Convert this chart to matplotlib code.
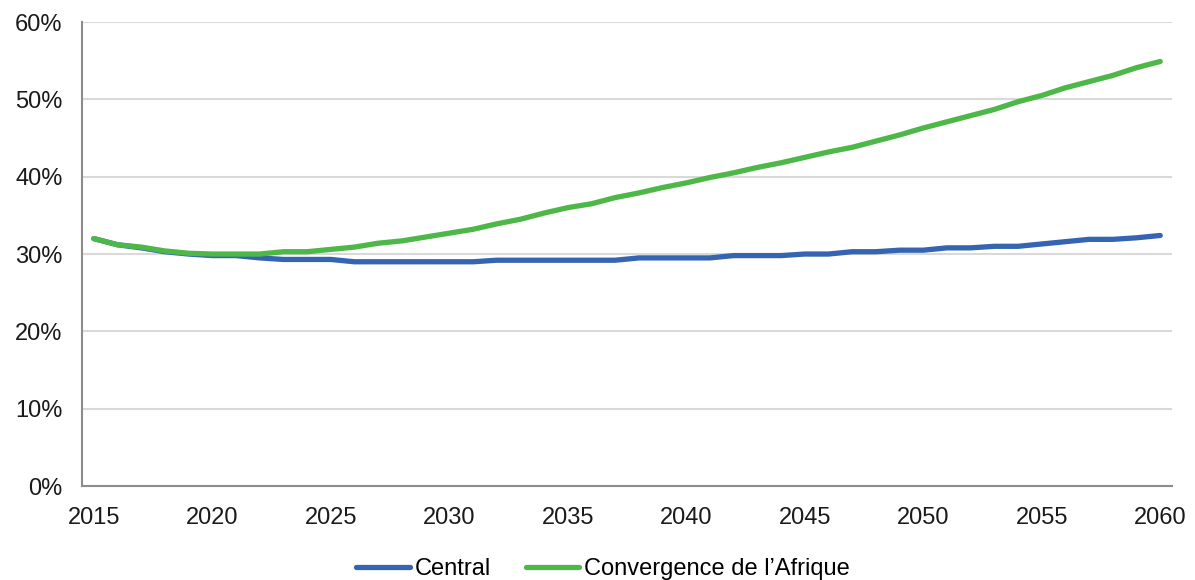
import matplotlib.pyplot as plt
from matplotlib.ticker import PercentFormatter

plt.rcParams['font.family'] = ['Liberation Sans', 'DejaVu Sans']

# Données
years = list(range(2015, 2061))
central = [32.0, 31.2, 30.8, 30.3, 30.0, 29.8, 29.8, 29.5, 29.3, 29.3,
           29.3, 29.0, 29.0, 29.0, 29.0, 29.0, 29.0, 29.2, 29.2, 29.2,
           29.2, 29.2, 29.2, 29.5, 29.5, 29.5, 29.5, 29.8, 29.8, 29.8,
           30.0, 30.0, 30.3, 30.3, 30.5, 30.5, 30.8, 30.8, 31.0, 31.0,
           31.3, 31.6, 31.9, 31.9, 32.1, 32.4]
convergence = [32.0, 31.2, 30.9, 30.4, 30.1, 30.0, 30.0, 30.0, 30.3, 30.3,
               30.6, 30.9, 31.4, 31.7, 32.2, 32.7, 33.2, 33.9, 34.5, 35.3,
               36.0, 36.5, 37.3, 37.9, 38.6, 39.2, 39.9, 40.5, 41.2, 41.8,
               42.5, 43.2, 43.8, 44.6, 45.4, 46.3, 47.1, 47.9, 48.7, 49.7,
               50.5, 51.5, 52.3, 53.1, 54.1, 54.9]
series_names = ['Central', 'Convergence de l\u2019Afrique']
colors = ['#3565B1', '#4DB748']
xtick_years = list(range(2015, 2061, 5))
ytick_values = list(range(0, 61, 10))

fig = plt.figure(figsize=(11.95, 5.8), dpi=100)
ax = fig.add_axes([0.0686, 0.162, 0.9122, 0.800])

for vals, name, col in zip([central, convergence], series_names, colors):
    ax.plot(years, vals, color=col, lw=3.8, label=name,
            solid_capstyle='round', solid_joinstyle='round')

ax.set_xlim(2014.5, 2060.5)
ax.set_ylim(0, 60)
ax.set_xticks(xtick_years)
ax.set_yticks(ytick_values)
ax.yaxis.set_major_formatter(PercentFormatter(decimals=0))
ax.tick_params(length=0, labelsize=17, colors='#1a1a1a')
ax.tick_params(axis='y', pad=14)
ax.tick_params(axis='x', pad=15)

ax.grid(axis='y', color='#D9D9D9', lw=1.5)
ax.set_axisbelow(True)
for s in ['top', 'right']:
    ax.spines[s].set_visible(False)
for s in ['left', 'bottom']:
    ax.spines[s].set_color('#8C8C8C')
    ax.spines[s].set_linewidth(1.5)

ax.legend(loc='upper center', bbox_to_anchor=(0.478, -0.11), ncol=2,
          frameon=False, fontsize=17, handlelength=2.25, handletextpad=0.2,
          columnspacing=1.5)

fig.savefig('out.png', dpi=100)
